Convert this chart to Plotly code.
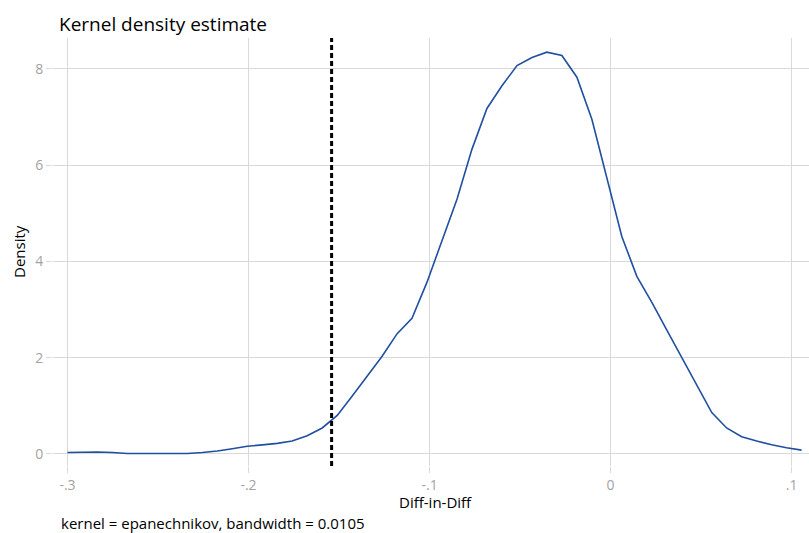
import plotly.graph_objects as go

# Data
diff_in_diff = [
    -0.3000, -0.2917, -0.2834, -0.2752, -0.2669, -0.2586, -0.2503, -0.2421, -0.2338, -0.2255,
    -0.2172, -0.2090, -0.2007, -0.1924, -0.1841, -0.1759, -0.1676, -0.1593, -0.1510, -0.1428,
    -0.1345, -0.1262, -0.1179, -0.1097, -0.1014, -0.0931, -0.0848, -0.0766, -0.0683, -0.0600,
    -0.0517, -0.0434, -0.0352, -0.0269, -0.0186, -0.0103, -0.0021, 0.0062, 0.0145, 0.0228,
    0.0310, 0.0393, 0.0476, 0.0559, 0.0641, 0.0724, 0.0807, 0.0890, 0.0972, 0.1055,
]
density = [
    0.03, 0.04, 0.04, 0.03, 0.01, 0.01, 0.01, 0.01, 0.01, 0.03,
    0.06, 0.11, 0.16, 0.19, 0.22, 0.27, 0.38, 0.54, 0.80, 1.20,
    1.61, 2.03, 2.50, 2.82, 3.57, 4.45, 5.30, 6.33, 7.18, 7.65,
    8.07, 8.24, 8.35, 8.28, 7.83, 6.95, 5.72, 4.52, 3.69, 3.15,
    2.58, 2.00, 1.44, 0.86, 0.54, 0.36, 0.27, 0.19, 0.13, 0.08,
]
x_tickvals = [-0.3, -0.2, -0.1, 0.0, 0.1]
x_ticktext = ["-.3", "-.2", "-.1", "0", ".1"]
y_tickvals = [0, 2, 4, 6, 8]
y_ticktext = ["0", "2", "4", "6", "8"]
vline_x = -0.1541

FONT = "Open Sans"

fig = go.Figure()
fig.add_trace(go.Scatter(
    x=diff_in_diff, y=density, mode="lines",
    line=dict(color="#1f4f9f", width=1.6),
    showlegend=False, hoverinfo="skip",
))

fig.add_shape(
    type="line", xref="x", yref="paper",
    x0=vline_x, x1=vline_x, y0=0, y1=1,
    line=dict(color="black", width=3, dash="5px,3px"),
)

fig.update_layout(
    width=809, height=533,
    margin=dict(l=53, r=0, t=38, b=67),
    paper_bgcolor="white", plot_bgcolor="white",
    font=dict(family=FONT, color="black"),
    title=dict(
        text="Kernel density estimate",
        xref="container", yref="container",
        x=59 / 809, xanchor="left",
        y=1 - 24 / 533, yanchor="middle",
        font=dict(size=19, color="black", family=FONT),
    ),
    xaxis=dict(
        range=[-0.308, 0.1096],
        tickvals=x_tickvals, ticktext=x_ticktext,
        showgrid=True, gridcolor="#d9d9d9", gridwidth=1,
        zeroline=False, showline=False,
        ticks="outside", ticklen=6, tickcolor="#d9d9d9",
        tickfont=dict(size=14, color="#a3a3a3"),
    ),
    yaxis=dict(
        range=[-0.25, 8.644],
        tickvals=y_tickvals, ticktext=y_ticktext,
        showgrid=True, gridcolor="#d9d9d9", gridwidth=1,
        zeroline=False, showline=False,
        ticks="outside", ticklen=6, tickcolor="#d9d9d9",
        tickfont=dict(size=14, color="#a3a3a3"),
    ),
    annotations=[
        dict(text="Diff-in-Diff", xref="paper", yref="paper",
             x=(435 - 53) / 756, y=-(502 - 466) / 428,
             xanchor="center", yanchor="middle", showarrow=False,
             font=dict(size=15, color="black")),
        dict(text="Density", xref="paper", yref="paper",
             x=-(53 - 19) / 756, y=0.5, textangle=-90,
             xanchor="center", yanchor="middle", showarrow=False,
             font=dict(size=15, color="black")),
        dict(text="kernel = epanechnikov, bandwidth = 0.0105",
             xref="paper", yref="paper",
             x=-(53 - 59) / 756, y=-(523 - 466) / 428,
             xanchor="left", yanchor="middle", showarrow=False,
             font=dict(size=15, color="black")),
    ],
)

fig.write_html("out.html")
